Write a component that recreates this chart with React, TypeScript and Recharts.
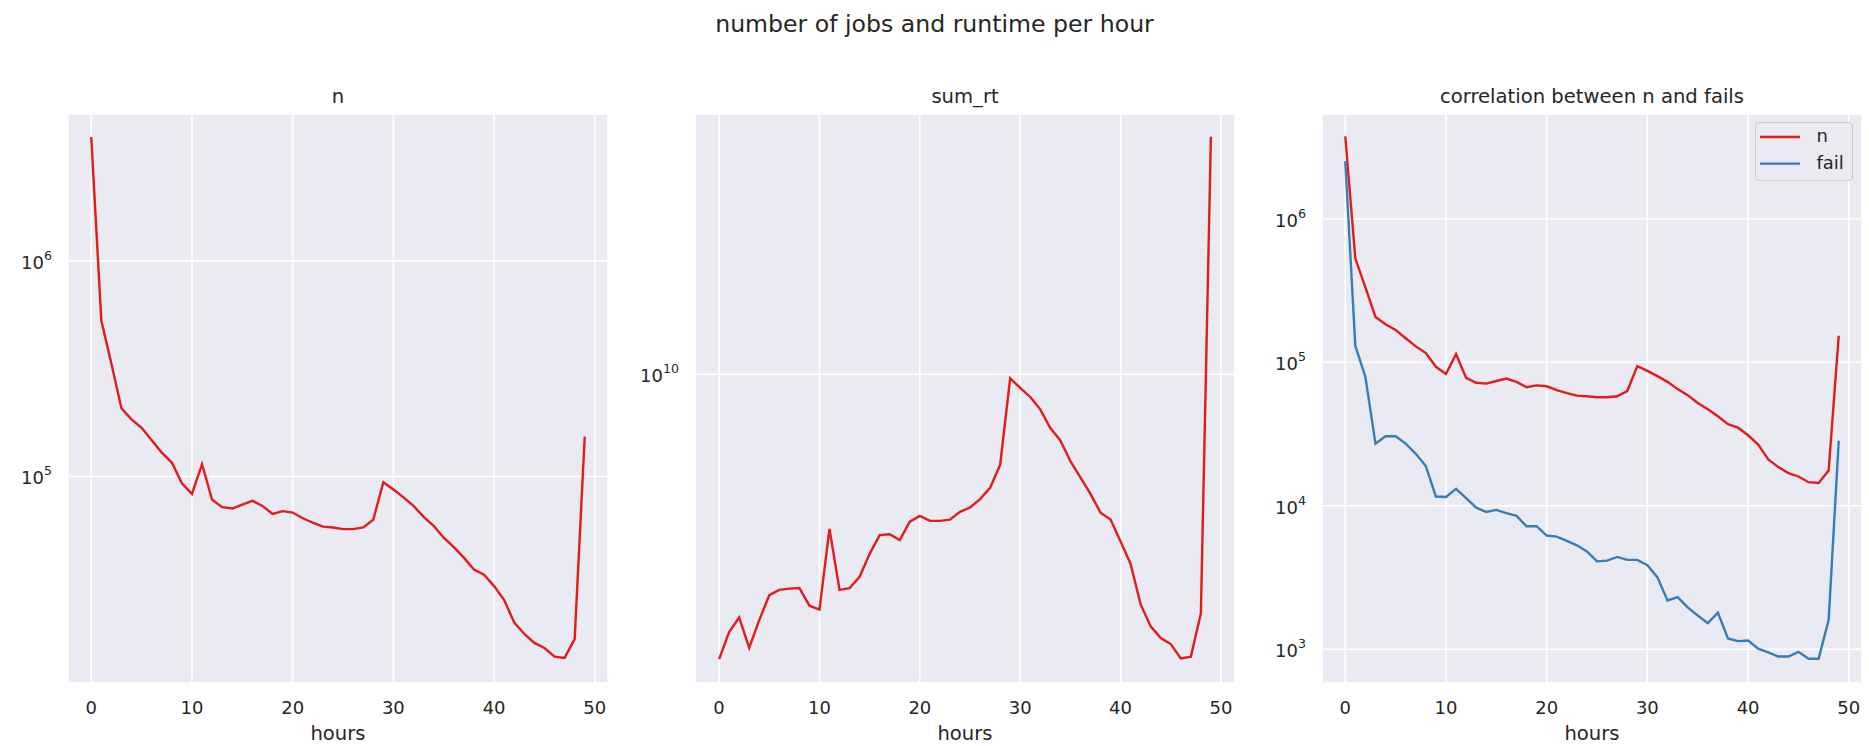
import { LineChart, Line, XAxis, YAxis, CartesianGrid, Legend, Label } from "recharts";

// hours since submission (x), one row per hour bucket
const hours = [
  0, 1, 2, 3, 4, 5, 6, 7, 8, 9, 10, 11, 12, 13, 14, 15, 16, 17, 18, 19, 20, 21, 22, 23, 24,
  25, 26, 27, 28, 29, 30, 31, 32, 33, 34, 35, 36, 37, 38, 39, 40, 41, 42, 43, 44, 45, 46, 47, 48, 49,
];

// number of jobs per hour
const nJobs = [
  3750000, 528000, 333000, 207000, 184000, 168000, 147000, 129000, 116000, 93000, 83000, 114000,
  78000, 72000, 71000, 74000, 77000, 73000, 67000, 69000, 68000, 64000, 61000, 58500, 58000,
  57000, 57000, 58000, 63000, 94000, 87000, 80000, 73000, 65000, 59000, 52000, 47000, 42000,
  37000, 35000, 31000, 26700, 21000, 18600, 16900, 16000, 14600, 14400, 17600, 153000,
];

// summed runtime per hour
const sumRt = [
  2.45e9, 2.8e9, 3.01e9, 2.59e9, 2.97e9, 3.36e9, 3.45e9, 3.47e9, 3.48e9, 3.19e9, 3.13e9, 4.66e9,
  3.45e9, 3.48e9, 3.68e9, 4.12e9, 4.52e9, 4.54e9, 4.41e9, 4.83e9, 4.97e9, 4.85e9, 4.85e9, 4.88e9,
  5.07e9, 5.18e9, 5.4e9, 5.71e9, 6.39e9, 9.8e9, 9.35e9, 8.94e9, 8.41e9, 7.67e9, 7.21e9, 6.51e9,
  6.01e9, 5.54e9, 5.05e9, 4.88e9, 4.38e9, 3.92e9, 3.21e9, 2.88e9, 2.72e9, 2.64e9, 2.46e9, 2.48e9,
  3.07e9, 3.23e10,
];

// failed jobs per hour
const fails = [
  2520000, 130000, 79000, 27100, 30500, 30500, 27100, 23000, 18900, 11600, 11500, 13100, 11300,
  9700, 9060, 9360, 8900, 8500, 7200, 7200, 6200, 6100, 5700, 5300, 4800, 4100, 4150, 4400, 4200,
  4200, 3850, 3170, 2190, 2310, 1960, 1720, 1520, 1800, 1190, 1140, 1150, 1010, 950, 890, 890,
  960, 860, 860, 1600, 28400,
];

const xTicks = [0, 10, 20, 30, 40, 50];
const legendOrder = ["n", "fail"];

const data = hours.map((h, i) => ({ hour: h, n: nJobs[i], sumRt: sumRt[i], fail: fails[i] }));

const FONT = "'DejaVu Sans', sans-serif";
const TEXT = "#262626";
const RED = "#e41a1c";
const BLUE = "#377eb8";
const BG = "#eaeaf2";

const AXIS_W = 68;
const PLOT_W = 540;
const X_AXIS_H = 63;
const H = 746;

const LogTick = (props: any) => {
  const { x, y, payload } = props;
  const exp = Math.round(Math.log10(payload.value));
  return (
    <text x={x} y={y + 8} textAnchor="end" fill={TEXT} fontSize={18} fontFamily={FONT}>
      <tspan>10</tspan>
      <tspan dy={-9} fontSize={12.6}>
        {exp}
      </tspan>
    </text>
  );
};

const renderLegend = (props: any) => {
  const items = [...(props.payload || [])].sort(
    (a: any, b: any) => legendOrder.indexOf(a.value) - legendOrder.indexOf(b.value)
  );
  return (
    <div
      style={{
        width: 98,
        height: 59,
        boxSizing: "border-box",
        border: "1px solid #cccccc",
        borderRadius: 4,
        background: "rgba(234,234,242,0.8)",
      }}
    >
      <svg width={96} height={57} style={{ display: "block" }}>
        {items.map((it: any, i: number) => (
          <g key={it.value}>
            <line x1={4} x2={44} y1={14 + i * 26.6} y2={14 + i * 26.6} stroke={it.color} strokeWidth={2.4} />
            <text x={60.5} y={19 + i * 26.6} fill={TEXT} fontSize={18} fontFamily={FONT}>
              {it.value}
            </text>
          </g>
        ))}
      </svg>
    </div>
  );
};

type PanelProps = {
  left: number;
  xDomain: [number, number];
  yDomain: [number, number];
  yTicks: number[];
  children: any;
};

const Panel = ({ left, xDomain, yDomain, yTicks, children }: PanelProps) => (
  <div style={{ position: "absolute", left: left - AXIS_W, top: 0 }}>
    <LineChart
      width={AXIS_W + PLOT_W}
      height={H}
      data={data}
      margin={{ top: 114, right: 0, bottom: 0, left: 0 }}
    >
      <CartesianGrid fill={BG} fillOpacity={1} stroke="#ffffff" strokeWidth={1.6} />
      <XAxis
        dataKey="hour"
        type="number"
        domain={xDomain}
        ticks={xTicks}
        allowDataOverflow
        height={X_AXIS_H}
        axisLine={false}
        tickLine={false}
        tickSize={0}
        tickMargin={18}
        tick={{ fill: TEXT, fontSize: 18, fontFamily: FONT }}
      >
        <Label value="hours" position="insideBottom" offset={6} fill={TEXT} fontSize={19.6} fontFamily={FONT} />
      </XAxis>
      <YAxis
        type="number"
        scale="log"
        domain={yDomain}
        ticks={yTicks}
        allowDataOverflow
        width={AXIS_W}
        axisLine={false}
        tickLine={false}
        tickSize={0}
        tickMargin={16}
        tick={<LogTick />}
      />
      {children}
    </LineChart>
  </div>
);

const titles = [
  { x: 68 + PLOT_W / 2, text: "n" },
  { x: 695 + PLOT_W / 2, text: "sum_rt" },
  { x: 1322 + PLOT_W / 2, text: "correlation between n and fails" },
];

export default function App() {
  return (
    <div
      style={{
        position: "absolute",
        left: 0,
        top: 0,
        width: 1869,
        height: H,
        background: "#ffffff",
        fontFamily: FONT,
      }}
    >
      <Panel left={68} xDomain={[-2.31, 51.31]} yDomain={[11015, 4797000]} yTicks={[1e5, 1e6]}>
        <Line dataKey="n" name="n" stroke={RED} strokeWidth={2.4} dot={false} isAnimationActive={false} />
      </Panel>
      <Panel left={695} xDomain={[-2.4, 51.4]} yDomain={[2.178e9, 3.614e10]} yTicks={[1e10]}>
        <Line dataKey="sumRt" name="sum_rt" stroke={RED} strokeWidth={2.4} dot={false} isAnimationActive={false} />
      </Panel>
      <Panel left={1322} xDomain={[-2.31, 51.31]} yDomain={[582.1, 5370000]} yTicks={[1e3, 1e4, 1e5, 1e6]}>
        <Line dataKey="n" name="n" stroke={RED} strokeWidth={2.4} dot={false} isAnimationActive={false} />
        <Line dataKey="fail" name="fail" stroke={BLUE} strokeWidth={2.4} dot={false} isAnimationActive={false} />
        <Legend
          layout="vertical"
          align="center"
          verticalAlign="middle"
          itemSorter={null}
          wrapperStyle={{ top: 121.7, left: 501, width: 98, height: 59 }}
          content={renderLegend}
        />
      </Panel>
      <svg
        width={1869}
        height={130}
        style={{ position: "absolute", left: 0, top: 0, pointerEvents: "none" }}
      >
        <text x={934.5} y={32} textAnchor="middle" fill={TEXT} fontSize={23.6} fontFamily={FONT}>
          number of jobs and runtime per hour
        </text>
        {titles.map((t) => (
          <text key={t.text} x={t.x} y={103} textAnchor="middle" fill={TEXT} fontSize={19.6} fontFamily={FONT}>
            {t.text}
          </text>
        ))}
      </svg>
    </div>
  );
}
